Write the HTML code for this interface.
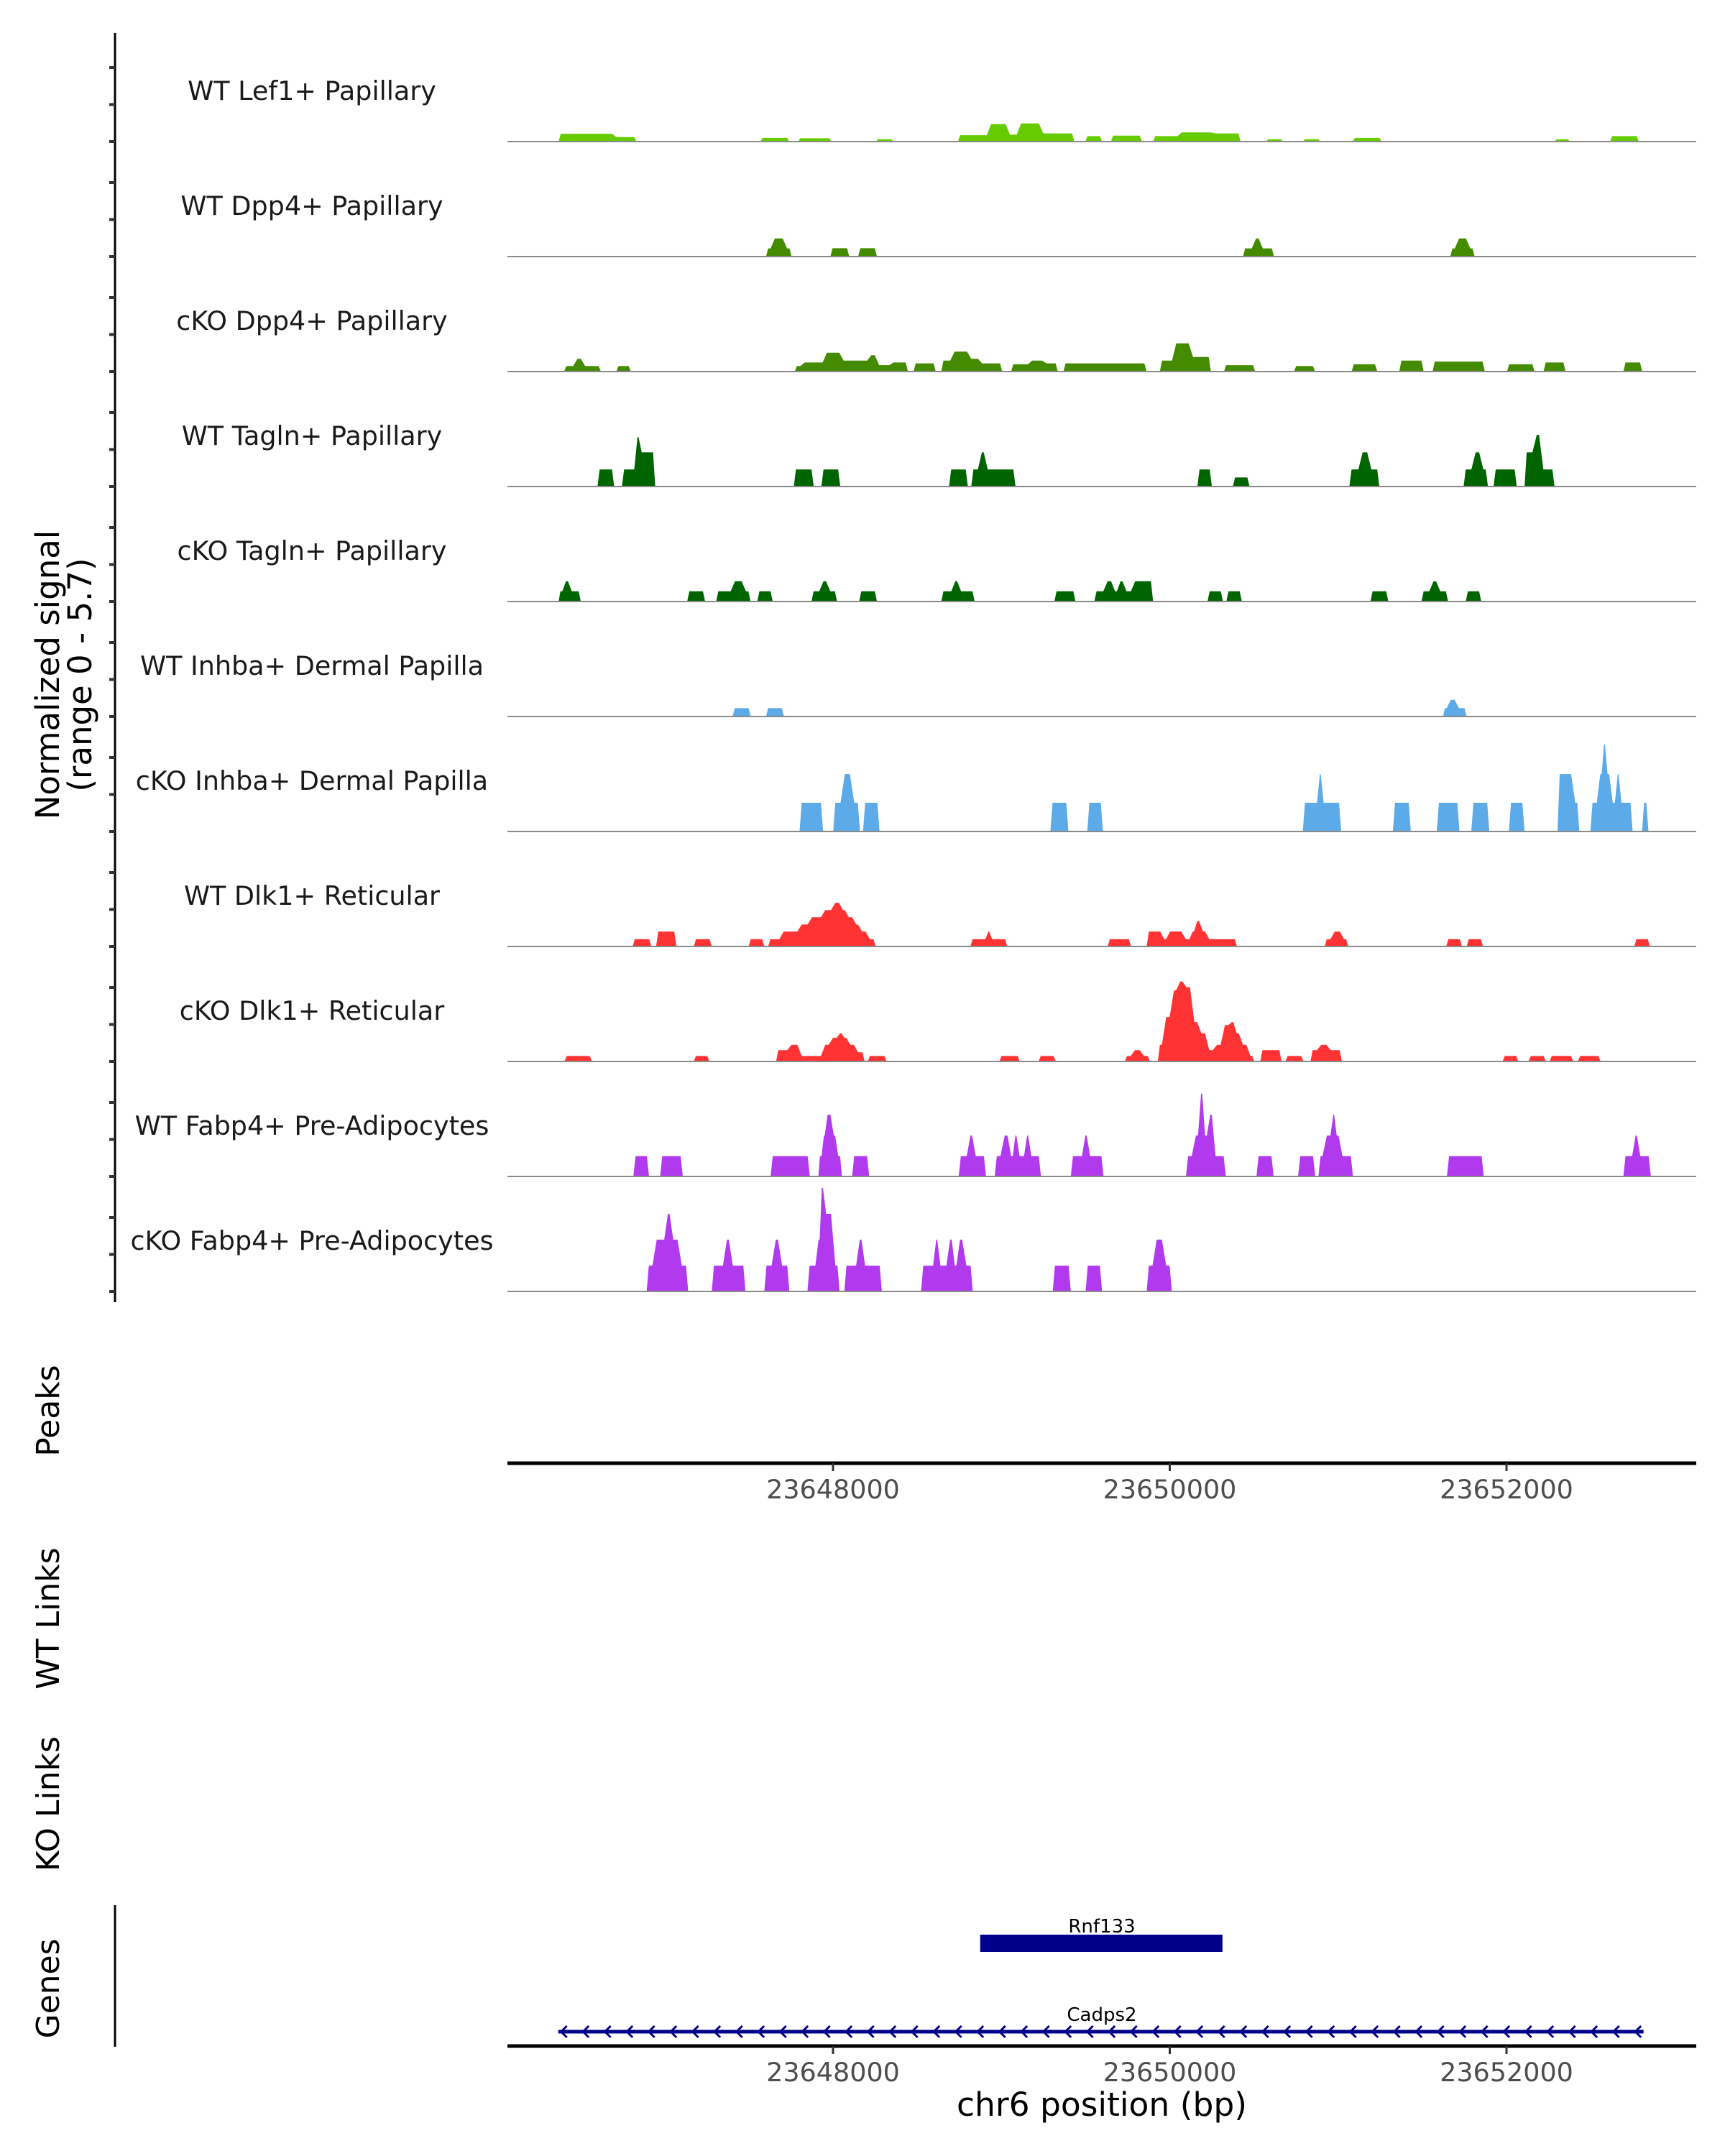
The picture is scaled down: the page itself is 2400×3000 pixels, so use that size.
<!DOCTYPE html>
<html><head><meta charset="utf-8"><style>
html,body{margin:0;padding:0;background:#fff;}
svg{display:block;font-family:"DejaVu Sans","Liberation Sans",sans-serif;}
</style></head><body>
<svg id="chart" width="2400" height="3000" viewBox="0 0 2400 3000" xmlns="http://www.w3.org/2000/svg"></svg>
<script>
// ---- data (positions in kb offset from 23,600,000 bp; values in normalized signal) ----
const CHR_OFFSET_KB = 23600;
const trackNames = ["WT Lef1+ Papillary","WT Dpp4+ Papillary","cKO Dpp4+ Papillary","WT Tagln+ Papillary","cKO Tagln+ Papillary","WT Inhba+ Dermal Papilla","cKO Inhba+ Dermal Papilla","WT Dlk1+ Reticular","cKO Dlk1+ Reticular","WT Fabp4+ Pre-Adipocytes","cKO Fabp4+ Pre-Adipocytes"];
const trackColors = ["#66cc00","#458b00","#458b00","#006400","#006400","#5caae8","#5caae8","#ff3333","#ff3333","#b23aee","#b23aee"];
const sigLef1WT = [[46.370,46.700,0.43],[46.700,46.832,0.25],[47.569,47.740,0.2],[47.793,47.991,0.18],[48.254,48.360,0.13],[48.742,48.926,0.35],[48.926,49.038,0.96],[49.038,49.104,0.38],[49.104,49.236,1.0],[49.236,49.433,0.45],[49.499,49.598,0.3],[49.651,49.835,0.33],[49.901,50.059,0.3],[50.059,50.257,0.5],[50.257,50.421,0.45],[50.573,50.672,0.13],[50.790,50.896,0.13],[51.087,51.258,0.2],[52.285,52.378,0.13],[52.615,52.786,0.3]];
const sigDpp4WT = [[47.602,47.642,0.45],[47.642,47.714,1.0],[47.714,47.754,0.45],[47.984,48.096,0.46],[48.149,48.261,0.46],[50.435,50.500,0.45],[50.500,50.540,1.0],[50.540,50.619,0.45],[51.666,51.706,0.45],[51.706,51.772,1.0],[51.772,51.811,0.45]];
const sigDpp4KO = [[46.403,46.469,0.3],[46.469,46.515,0.7],[46.515,46.621,0.3],[46.713,46.799,0.3],[47.773,47.819,0.3],[47.819,47.951,0.5],[47.951,48.050,1.04],[48.050,48.215,0.6],[48.215,48.261,0.9],[48.261,48.347,0.35],[48.347,48.445,0.5],[48.478,48.610,0.45],[48.643,48.709,0.6],[48.709,48.808,1.1],[48.808,48.873,0.7],[48.873,49.005,0.45],[49.058,49.170,0.4],[49.170,49.255,0.6],[49.255,49.335,0.45],[49.368,49.862,0.45],[49.941,50.026,0.6],[50.026,50.125,1.55],[50.125,50.244,0.8],[50.322,50.507,0.35],[50.738,50.863,0.3],[51.080,51.232,0.4],[51.363,51.508,0.6],[51.561,51.871,0.55],[52.003,52.167,0.4],[52.220,52.351,0.5],[52.694,52.806,0.5]];
const sigTaglnWT = [[46.601,46.700,0.94],[46.746,46.832,0.94],[46.832,46.851,2.71],[46.851,46.944,1.88],[47.767,47.885,0.94],[47.931,48.043,0.94],[48.689,48.801,0.94],[48.821,48.873,0.94],[48.873,48.906,1.88],[48.906,49.084,0.94],[50.164,50.250,0.94],[50.375,50.474,0.5],[51.067,51.133,0.94],[51.133,51.185,1.88],[51.185,51.245,0.94],[51.745,51.804,0.94],[51.804,51.850,1.88],[51.850,51.890,0.94],[51.923,52.061,0.94],[52.107,52.167,1.88],[52.167,52.206,2.84],[52.206,52.285,0.94]];
const sigTaglnKO = [[46.370,46.403,0.56],[46.403,46.436,1.12],[46.436,46.502,0.56],[47.134,47.240,0.56],[47.306,47.405,0.56],[47.405,47.470,1.12],[47.470,47.510,0.56],[47.550,47.642,0.56],[47.872,47.931,0.56],[47.931,47.971,1.12],[47.971,48.024,0.56],[48.155,48.261,0.56],[48.643,48.715,0.56],[48.715,48.748,1.12],[48.748,48.841,0.56],[49.315,49.440,0.56],[49.552,49.618,0.56],[49.618,49.664,1.12],[49.664,49.697,0.56],[49.697,49.730,1.12],[49.730,49.782,0.56],[49.782,49.901,1.12],[50.224,50.316,0.56],[50.336,50.428,0.56],[51.192,51.298,0.56],[51.495,51.554,0.56],[51.554,51.594,1.12],[51.594,51.653,0.56],[51.758,51.850,0.56]];
const sigInhbaWT = [[47.403,47.511,0.46],[47.602,47.709,0.46],[51.623,51.656,0.46],[51.656,51.705,0.92],[51.705,51.763,0.46]];
const sigInhbaKO = [[47.801,47.941,1.58],[48.001,48.057,1.58],[48.057,48.113,3.16],[48.113,48.160,1.58],[48.178,48.276,1.58],[49.291,49.398,1.58],[49.510,49.603,1.58],[50.790,50.887,1.58],[50.887,50.901,3.16],[50.901,51.018,1.58],[51.325,51.432,1.58],[51.586,51.721,1.58],[51.791,51.898,1.58],[52.014,52.107,1.58],[52.303,52.396,3.16],[52.396,52.433,1.58],[52.498,52.549,1.58],[52.549,52.573,3.16],[52.573,52.591,4.77],[52.591,52.619,3.16],[52.619,52.656,1.58],[52.656,52.670,3.16],[52.670,52.749,1.58],[52.805,52.843,1.58]];
const sigDlk1WT = [[46.810,46.921,0.4],[46.949,47.070,0.82],[47.173,47.280,0.4],[47.499,47.592,0.4],[47.615,47.694,0.4],[47.694,47.801,0.82],[47.801,47.862,1.21],[47.862,47.941,1.61],[47.941,48.001,2.0],[48.001,48.048,2.4],[48.048,48.081,2.0],[48.081,48.127,1.61],[48.127,48.160,1.21],[48.160,48.206,0.82],[48.206,48.253,0.4],[48.816,48.918,0.4],[48.918,48.932,0.82],[48.932,49.035,0.4],[49.631,49.770,0.4],[49.863,49.956,0.82],[49.956,49.989,0.4],[49.989,50.082,0.82],[50.082,50.129,0.4],[50.129,50.152,0.82],[50.152,50.185,1.4],[50.185,50.222,0.82],[50.222,50.399,0.4],[50.920,50.967,0.4],[50.967,51.023,0.82],[51.023,51.060,0.4],[51.642,51.736,0.4],[51.763,51.861,0.4],[52.759,52.852,0.4]];
const sigDlk1KO = [[46.405,46.568,0.3],[47.173,47.266,0.3],[47.662,47.741,0.62],[47.741,47.801,0.92],[47.801,47.941,0.3],[47.941,47.987,0.92],[47.987,48.034,1.3],[48.034,48.057,1.55],[48.057,48.090,1.3],[48.090,48.136,0.92],[48.136,48.188,0.5],[48.206,48.318,0.3],[48.988,49.109,0.3],[49.221,49.323,0.3],[49.733,49.780,0.3],[49.780,49.835,0.62],[49.835,49.882,0.3],[49.929,49.966,0.92],[49.966,50.012,2.44],[50.012,50.050,3.9],[50.050,50.087,4.4],[50.087,50.133,4.08],[50.133,50.175,2.17],[50.175,50.222,1.55],[50.222,50.268,0.62],[50.268,50.315,0.92],[50.315,50.361,2.0],[50.361,50.385,2.17],[50.385,50.422,1.55],[50.422,50.468,0.92],[50.468,50.501,0.3],[50.538,50.664,0.62],[50.687,50.794,0.3],[50.836,50.887,0.62],[50.887,50.943,0.92],[50.943,51.022,0.62],[51.977,52.070,0.3],[52.131,52.233,0.3],[52.256,52.396,0.3],[52.424,52.559,0.3]];
const sigFabp4WT = [[46.814,46.907,1.12],[46.973,47.108,1.12],[47.629,47.862,1.12],[47.913,47.941,1.12],[47.941,47.955,2.25],[47.955,47.997,3.4],[47.997,48.020,2.25],[48.020,48.053,1.12],[48.113,48.215,1.12],[48.746,48.807,1.12],[48.807,48.835,2.25],[48.835,48.909,1.12],[48.960,49.007,1.12],[49.007,49.049,2.25],[49.049,49.077,1.12],[49.077,49.095,2.25],[49.095,49.147,1.12],[49.147,49.165,2.25],[49.165,49.235,1.12],[49.412,49.491,1.12],[49.491,49.514,2.25],[49.514,49.607,1.12],[50.096,50.143,1.12],[50.143,50.180,2.25],[50.180,50.199,4.55],[50.199,50.231,2.25],[50.231,50.259,3.4],[50.259,50.333,1.12],[50.515,50.617,1.12],[50.762,50.864,1.12],[50.883,50.920,1.12],[50.920,50.967,2.25],[50.967,50.981,3.4],[50.981,51.013,2.25],[51.013,51.088,1.12],[51.646,51.865,1.12],[52.694,52.759,1.12],[52.759,52.782,2.25],[52.782,52.857,1.12]];
const sigFabp4KO = [[46.893,46.940,1.42],[46.940,47.010,2.85],[47.010,47.038,4.27],[47.038,47.089,2.85],[47.089,47.140,1.42],[47.280,47.359,1.42],[47.359,47.392,2.85],[47.392,47.480,1.42],[47.592,47.648,1.42],[47.648,47.685,2.85],[47.685,47.741,1.42],[47.848,47.908,1.42],[47.908,47.927,2.85],[47.927,47.946,5.7],[47.946,48.001,4.27],[48.001,48.039,1.42],[48.067,48.150,1.42],[48.150,48.178,2.85],[48.178,48.290,1.42],[48.523,48.607,1.42],[48.607,48.625,2.85],[48.625,48.686,1.42],[48.686,48.714,2.85],[48.714,48.742,1.42],[48.742,48.779,2.85],[48.779,48.830,1.42],[49.305,49.412,1.42],[49.500,49.598,1.42],[49.863,49.910,1.42],[49.910,49.966,2.85],[49.966,50.012,1.42]];
const signals = [sigLef1WT,sigDpp4WT,sigDpp4KO,sigTaglnWT,sigTaglnKO,sigInhbaWT,sigInhbaKO,sigDlk1WT,sigDlk1KO,sigFabp4WT,sigFabp4KO];
const xTickLabels = ["23648000","23650000","23652000"];
const xTickValuesKb = [48, 50, 52];
const geneNames = ["Rnf133","Cadps2"];
const geneStartsKb = [48.874, 46.368];
const geneEndsKb = [50.313, 52.814];

// ---- scales ----
const X0 = 706, X1 = 2360;
function xs(kb){ return 1159 + (kb - 48) * 234.25; }
const SIG_PX = 25.3;
function baseY(i){ return 197 + 160 * i; }

const NS = "http://www.w3.org/2000/svg";
const svg = document.getElementById('chart');
function mk(tag, attrs, parent){
  const e = document.createElementNS(NS, tag);
  for (const k in attrs) e.setAttribute(k, attrs[k]);
  (parent || svg).appendChild(e);
  return e;
}

// left axis
const la = mk('line',{x1:160,y1:46,x2:160,y2:1812,stroke:'#000','stroke-width':3});


for (let i = 0; i < trackNames.length; i++){
  for (let k = 0; k < 3; k++){
    const y = baseY(i) - k * 51.5;
    const t = mk('line',{x1:152,y1:y,x2:160,y2:y,stroke:'#333','stroke-width':4});
    
    
  }
}

// tracks
for (let i = 0; i < trackNames.length; i++){
  const g = mk('g',{});
  
  
  const by = baseY(i);
  const lbl = mk('text',{x:434,y:by-58,'text-anchor':'middle','font-size':36.5,fill:'#1a1a1a'},g);
  lbl.textContent = trackNames[i];
  
  
  const segs = signals[i];
  // group contiguous segments into filled area paths with sloped transitions
  let s = 0;
  while (s < segs.length){
    let e = s;
    while (e + 1 < segs.length && Math.abs(segs[e+1][0] - segs[e][1]) < 0.0005) e++;
    let d = `M${xs(segs[s][0]).toFixed(1)},${by}`;
    for (let k = s; k <= e; k++){
      const xa = xs(segs[k][0]), xb = xs(segs[k][1]);
      const r = Math.min(3, (xb - xa) / 3);
      const y = (by - segs[k][2] * SIG_PX).toFixed(1);
      d += ` L${(xa + r).toFixed(1)},${y} L${(xb - r).toFixed(1)},${y}`;
    }
    d += ` L${xs(segs[e][1]).toFixed(1)},${by} Z`;
    const p = mk('path',{d:d,fill:trackColors[i]},g);
    
    
    s = e + 1;
  }
  const bl = mk('line',{x1:X0,y1:by,x2:X1,y2:by,stroke:'#8a8a8a','stroke-width':2},g);
  
  
}

// x axes
function xAxis(y, name){
  const g = mk('g',{});
  
  
  mk('line',{x1:X0,y1:y,x2:X1,y2:y,stroke:'#000','stroke-width':5},g);
  for (let i = 0; i < xTickValuesKb.length; i++){
    const x = xs(xTickValuesKb[i]);
    mk('line',{x1:x,y1:y,x2:x,y2:y+11,stroke:'#333','stroke-width':3},g);
    const t = mk('text',{x:x,y:y+49,'text-anchor':'middle','font-size':36.5,fill:'#4d4d4d'},g);
    t.textContent = xTickLabels[i];
    
    
  }
}
xAxis(2036,'peaks-x-axis');
xAxis(2847,'genes-x-axis');
const xt = mk('text',{x:1533,y:2944,'text-anchor':'middle','font-size':45.5,fill:'#000'});
xt.textContent = 'chr6 position (bp)';



// y titles
function ytitle(txt, x, y, name, fs){
  const t = mk('text',{x:0,y:0,'text-anchor':'middle','font-size':fs,fill:'#000',transform:`translate(${x},${y}) rotate(-90)`});
  t.textContent = txt;
  
  
}
ytitle('Normalized signal', 82, 939, 'y-axis-title', 45);
ytitle('(range 0 - 5.7)', 127, 939, 'y-axis-subtitle', 45);
ytitle('Peaks', 82, 1963, 'peaks-title', 44);
ytitle('WT Links', 82, 2252, 'wt-links-title', 44);
ytitle('KO Links', 82, 2510, 'ko-links-title', 44);
ytitle('Genes', 82, 2767, 'genes-title', 44);

// genes
const gl = mk('line',{x1:160,y1:2651,x2:160,y2:2848,stroke:'#000','stroke-width':3});


const geneY = [2704, 2827];
for (let i = 0; i < geneNames.length; i++){
  const g = mk('g',{});
  
  
  const xa = xs(geneStartsKb[i]), xb = xs(geneEndsKb[i]);
  const y = geneY[i];
  if (i === 0){
    mk('rect',{x:xa,y:y-12,width:xb-xa,height:24,fill:'#00008b'},g);
  } else {
    mk('line',{x1:xa,y1:y,x2:xb,y2:y,stroke:'#00008b','stroke-width':5},g);
    for (let x = xa + 4; x < xb - 10; x += 30.5){
      mk('polyline',{points:`${x+8},${y-8} ${x},${y} ${x+8},${y+8}`,fill:'none',stroke:'#00008b','stroke-width':3},g);
    }
  }
  const t = mk('text',{x:1533,y:y-15,'text-anchor':'middle','font-size':26,fill:'#000'},g);
  t.textContent = geneNames[i];
}
</script>
</body></html>
